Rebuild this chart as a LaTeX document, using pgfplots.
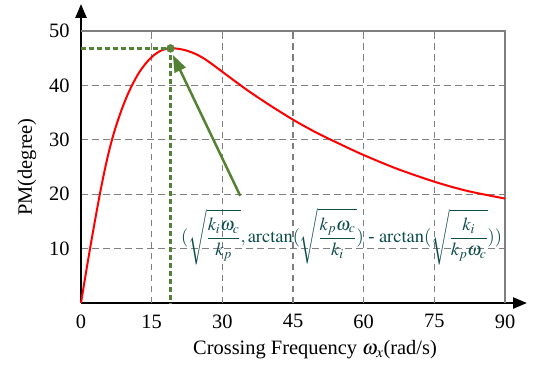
\documentclass[border=0pt]{standalone}
\usepackage{mathptmx}
\usepackage{fontspec}
\setmainfont{Liberation Serif}
\usepackage{pgfplots}
\pgfplotsset{compat=1.18}
\usetikzlibrary{arrows.meta}
\definecolor{pgreen}{HTML}{548235}
\definecolor{fteal}{HTML}{0E4D4D}
\definecolor{ggray}{HTML}{7F7F7F}
\tikzset{gridl/.style={ggray, line width=1.3bp, dash pattern=on 6.5bp off 4.5bp}}
\begin{document}
\begin{tikzpicture}
\begin{axis}[
  scale only axis, width=424bp, height=272bp,
  xmin=0, xmax=90, ymin=0, ymax=50,
  xtick={0,15,30,45,60,75,90}, ytick={10,20,30,40,50},
  axis lines=left,
  x axis line style={line width=2.5bp, -{Triangle[length=14bp,width=11bp]}, shorten >=-22bp},
  y axis line style={line width=2.5bp, -{Triangle[length=14bp,width=11bp]}, shorten >=-27bp},
  ymajorgrids=true,
  grid style={gridl},
  major tick length=0pt,
  /pgf/number format/assume math mode=true,
  tick label style={font=\fontsize{20.5}{22}\selectfont},
  xticklabel style={yshift=-8bp},
  yticklabel style={xshift=-8bp},
  label style={font=\fontsize{20.5}{22}\selectfont},
  xlabel={Crossing Frequency $\omega_x$(rad/s)},
  ylabel={PM(degree)},
  xlabel style={xshift=22bp, yshift=-5bp},
  ylabel style={yshift=6bp},
  clip=false,
]
\draw[gridl] (axis cs:15,0) -- (axis cs:15,50);
\draw[gridl] (axis cs:30,0) -- (axis cs:30,50);
\draw[gridl] (axis cs:45,0) -- (axis cs:45,50);
\draw[gridl] (axis cs:60,0) -- (axis cs:60,50);
\draw[gridl] (axis cs:75,0) -- (axis cs:75,50);
\draw[ggray, line width=1.5bp] (axis cs:0,50) -- (axis cs:90,50) -- (axis cs:90,0);
\addplot[red, line width=2bp, smooth] coordinates {
 (0,0) (1,5.3) (2,10.4) (3,15.3) (4,20) (5,24.3) (6,28.1) (7,31.3) (8,34.0) (9,36.4)
 (10,38.5) (11,40.3) (12,41.9) (13,43.2) (14,44.3) (15,45.2) (16,45.9) (17,46.4)
 (18,46.7) (19,46.8) (20,46.8) (22,46.5) (24,45.9) (26,45.0) (28,43.8) (30,42.5)
 (33.9,40) (36,38.7) (40,36.4) (45,33.7) (50,31.3) (55,29.2) (60,27.2) (67,24.7)
 (75,22.3) (82,20.6) (90,19.2)
};
\addplot[pgreen, line width=2.5bp, dash pattern=on 5bp off 3bp] coordinates {(0,46.8) (19,46.8) (19,0)};
\addplot[only marks, mark=*, mark size=4bp, draw=pgreen, fill=pgreen!85!gray] coordinates {(19,46.8)};
\draw[pgreen, line width=2.5bp, -{Triangle[length=17bp,width=12bp]}] (axis cs:33.8,19.7) -- (axis cs:19.5,45.6);
\node[fteal, font=\fontsize{18.5}{20}\selectfont] at (axis cs:55.3,12.2)
 {$\displaystyle(\sqrt{\frac{k_i\omega_c}{k_p}},\mathrm{arctan}(\sqrt{\frac{k_p\omega_c}{k_i}})\mbox{ - }\mathrm{arctan}(\sqrt{\frac{k_i}{k_p\omega_c}}))$};
\coordinate (O) at (axis cs:0,0);
\coordinate (T) at (axis cs:90,50);
\end{axis}
\pgfresetboundingbox
\path ([shift={(-81bp,-63bp)}]O) rectangle ([shift={(29bp,31bp)}]T);
\end{tikzpicture}
\end{document}
